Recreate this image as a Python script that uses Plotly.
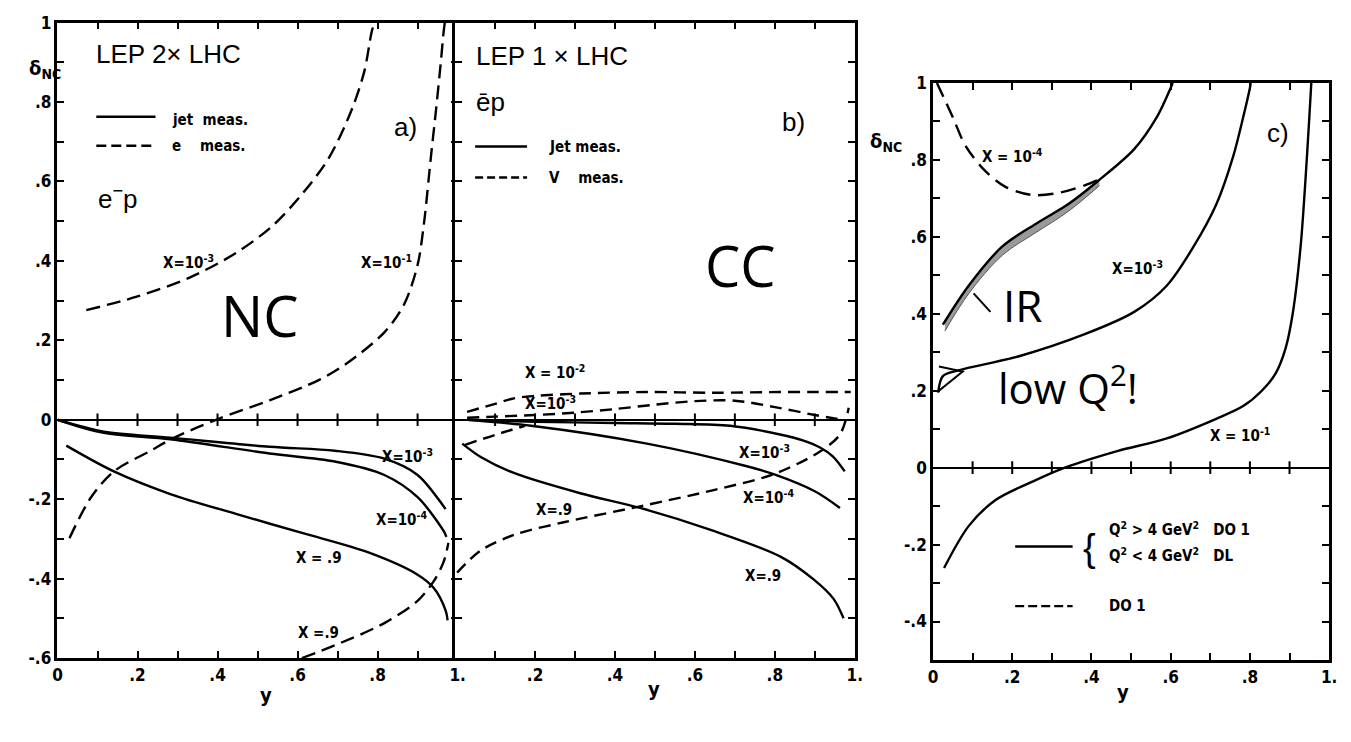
import plotly.graph_objects as go

# ---------------- data ----------------
# Panel a) LEP 2 x LHC, e-p, neutral current
a_e_x3_x = [.072, .198, .33, .446, .537, .611, .678, .735, .767, .785, .792]
a_e_x3_y = [.276, .31, .358, .42, .488, .568, .659, .78, .878, .976, 1.0]
a_e_x1_x = [.03, .084, .141, .233, .282, .396, .53, .653, .72, .817, .866, .9, .916, .933, .946, .958, .965, .968]
a_e_x1_y = [-.298, -.195, -.13, -.078, -.05, 0, .049, .1, .14, .22, .29, .39, .495, .659, .78, .9, .976, 1.0]
a_e_x9_x = [.611, .693, .817, .9, .94, .965, .977]
a_e_x9_y = [-.6, -.568, -.512, -.456, -.407, -.358, -.31]
a_j_x3_x = [0, .116, .282, .53, .693, .817, .9, .963, .97]
a_j_x3_y = [0, -.03, -.045, -.068, -.078, -.098, -.139, -.215, -.225]
a_j_x4_x = [0, .116, .282, .53, .693, .817, .9, .965, .972]
a_j_x4_y = [0, -.033, -.049, -.085, -.105, -.139, -.195, -.28, -.295]
a_j_x9_x = [.022, .141, .282, .446, .611, .777, .9, .94, .97, .975]
a_j_x9_y = [-.065, -.13, -.187, -.237, -.285, -.334, -.39, -.423, -.48, -.505]

# Panel b) LEP 1 x LHC, polarised e-p, charged current
b_n_x2_x = [.03, .1, .147, .2, .313, .48, .647, .813, .9, .99]
b_n_x2_y = [.02, .04, .054, .06, .066, .07, .068, .07, .07, .07]
b_n_x3_x = [.03, .1, .2, .3, .4, .5, .6, .7, .8, .9, .97]
b_n_x3_y = [.005, .008, .012, .018, .027, .038, .047, .048, .032, .012, 0]
b_n_x4_x = [.025, .1, .175]
b_n_x4_y = [-.063, -.038, -.015]
b_n_x9_x = [.005, .063, .147, .272, .463, .647, .797, .913, .963, .985]
b_n_x9_y = [-.385, -.33, -.29, -.258, -.218, -.177, -.137, -.08, -.037, .03]
b_j_x3_x = [.03, .2, .4, .55, .688, .813, .87, .913, .945, .975]
b_j_x3_y = [0, -.005, -.008, -.01, -.015, -.037, -.052, -.07, -.092, -.13]
b_j_x4_x = [.03, .19, .48, .73, .797, .9, .963]
b_j_x4_y = [0, -.015, -.06, -.117, -.137, -.18, -.222]
b_j_x9_x = [.018, .063, .147, .313, .463, .647, .813, .897, .947, .972]
b_j_x9_y = [-.06, -.093, -.134, -.185, -.222, -.28, -.344, -.402, -.451, -.5]

# Panel c) structure-function dependence
c_d_x4_x = [.01, .05, .083, .133, .183, .25, .315, .383, .415]
c_d_x4_y = [1.0, .911, .835, .77, .73, .709, .714, .734, .747]
c_s_x4_x = [.025, .09, .175, .258, .34, .415, .508, .565, .6, .605]
c_s_x4_y = [.372, .473, .575, .633, .684, .744, .828, .911, .987, 1.0]
c_s_x3_x = [.013, .025, .065, .215, .383, .508, .59, .658, .715, .758, .783, .8, .802]
c_s_x3_y = [.195, .238, .253, .289, .347, .405, .473, .575, .684, .81, .911, .987, 1.0]
c_s_x1_x = [.028, .09, .158, .258, .333, .465, .59, .715, .783, .83, .865, .89, .908, .928, .94, .95, .955]
c_s_x1_y = [-.261, -.152, -.084, -.033, 0, .043, .076, .127, .16, .2, .245, .31, .4, .575, .744, .911, 1.0]
c_band_x = [.03, .09, .175, .258, .34, .42]
c_band_top = [.375, .473, .575, .633, .684, .75]
c_band_bot = [.355, .452, .552, .61, .665, .733]

x_ticks = [round(i * 0.1, 1) for i in range(11)]
x_text_a = ["0", "", ".2", "", ".4", "", ".6", "", ".8", "", "1."]
x_text_b = ["", "", ".2", "", ".4", "", ".6", "", ".8", "", "1."]
y_ticks_ab = [round(-0.6 + i * 0.1, 1) for i in range(17)]
y_text_ab = ["-.6", "", "-.4", "", "-.2", "", "0", "", ".2", "", ".4", "", ".6", "", ".8", "", "1"]
y_ticks_c = [round(-0.5 + i * 0.1, 1) for i in range(16)]
y_text_c = ["", "-.4", "", "-.2", "", "0", "", ".2", "", ".4", "", ".6", "", ".8", "", "1"]
zero_ticks = [round(i * 0.1, 1) for i in range(1, 10)]

# ---------------- styling ----------------
INK = "black"
LW = 2.4
AXW = 2.5
TICKFONT = dict(family="Liberation Sans Narrow, DejaVu Sans Condensed, Arial Narrow, sans-serif",
                size=17, color=INK, weight="bold")
LABFONT = dict(family="Liberation Sans Narrow, DejaVu Sans Condensed, Arial Narrow, sans-serif",
               size=15, color=INK, weight="bold")
TXTFONT = dict(family="Liberation Sans, Arial, sans-serif", size=26, color=INK)
HANDFONT = dict(family="Open Sans, Lato, sans-serif", size=56, color=INK)

fig = go.Figure()


def curve(x, y, xa, ya, dash="solid"):
    fig.add_trace(go.Scatter(x=x, y=y, xaxis=xa, yaxis=ya, mode="lines",
                             line=dict(color=INK, width=LW, dash=dash, shape="spline", smoothing=0.9),
                             hoverinfo="skip"))


DASH = "14px,7px"

# panel a
curve(a_e_x3_x, a_e_x3_y, "x", "y", DASH)
curve(a_e_x1_x, a_e_x1_y, "x", "y", DASH)
curve(a_e_x9_x, a_e_x9_y, "x", "y", DASH)
curve(a_j_x3_x, a_j_x3_y, "x", "y")
curve(a_j_x4_x, a_j_x4_y, "x", "y")
curve(a_j_x9_x, a_j_x9_y, "x", "y")

# panel b
curve(b_n_x2_x, b_n_x2_y, "x2", "y2", "12px,7px")
curve(b_n_x3_x, b_n_x3_y, "x2", "y2", "12px,7px")
curve(b_n_x4_x, b_n_x4_y, "x2", "y2", "12px,7px")
curve(b_n_x9_x, b_n_x9_y, "x2", "y2", "12px,7px")
curve(b_j_x3_x, b_j_x3_y, "x2", "y2")
curve(b_j_x4_x, b_j_x4_y, "x2", "y2")
curve(b_j_x9_x, b_j_x9_y, "x2", "y2")

# panel c: shaded band along the x=1e-4 curve
fig.add_trace(go.Scatter(x=c_band_x, y=c_band_bot, xaxis="x3", yaxis="y3", mode="lines",
                         line=dict(color="#555", width=1, shape="spline"), hoverinfo="skip"))
fig.add_trace(go.Scatter(x=c_band_x, y=c_band_top, xaxis="x3", yaxis="y3", mode="lines",
                         line=dict(color="#555", width=1, shape="spline"), fill="tonexty",
                         fillcolor="#9a9a9a", hoverinfo="skip"))
curve(c_d_x4_x, c_d_x4_y, "x3", "y3", "15px,8px")
curve(c_s_x4_x, c_s_x4_y, "x3", "y3")
curve(c_s_x3_x, c_s_x3_y, "x3", "y3")
curve(c_s_x1_x, c_s_x1_y, "x3", "y3")

# small tick marks along the zero lines
for xa, ya in (("x", "y"), ("x2", "y2"), ("x3", "y3")):
    fig.add_trace(go.Scatter(x=zero_ticks, y=[0] * len(zero_ticks), xaxis=xa, yaxis=ya, mode="markers",
                             marker=dict(symbol="line-ns", size=9, line=dict(color=INK, width=2)),
                             hoverinfo="skip"))


def xaxis(domain, text, anchor):
    return dict(domain=domain, range=[0, 1], anchor=anchor, tickmode="array", tickvals=x_ticks,
                ticktext=text, ticks="inside", ticklen=7, tickwidth=2, tickcolor=INK,
                showline=True, linewidth=AXW, linecolor=INK, mirror="ticks", showgrid=False,
                zeroline=False, tickfont=TICKFONT)


def yaxis(domain, rng, vals, text, anchor, show=True):
    return dict(domain=domain, range=rng, anchor=anchor, tickmode="array", tickvals=vals,
                ticktext=text, ticks="inside", ticklen=7, tickwidth=2, tickcolor=INK,
                showline=True, linewidth=AXW, linecolor=INK, mirror="ticks", showgrid=False,
                zeroline=True, zerolinecolor=INK, zerolinewidth=2.2, showticklabels=show,
                tickfont=TICKFONT)


W, H = 1351, 742
dom_ab = [(H - 666) / H, (H - 13) / H]
dom_c = [(H - 668) / H, (H - 75) / H]
# panel b starts one frame-line width left so the shared border is drawn once
b_left = 457 - AXW

fig.update_layout(
    width=W, height=H, margin=dict(l=0, r=0, t=0, b=0),
    paper_bgcolor="white", plot_bgcolor="white", showlegend=False,
    xaxis=xaxis([53 / W, 457 / W], x_text_a, "y"),
    xaxis2=xaxis([b_left / W, 858 / W], x_text_b, "y2"),
    xaxis3=xaxis([937 / W, 1337 / W], x_text_a, "y3"),
    yaxis=yaxis(dom_ab, [-0.6, 1], y_ticks_ab, y_text_ab, "x"),
    yaxis2=yaxis(dom_ab, [-0.6, 1], y_ticks_ab, y_text_ab, "x2", show=False),
    yaxis3=yaxis(dom_c, [-0.5, 1], y_ticks_c, y_text_c, "x3"),
)

ann = []


def text(xa, ya, x, y, s, font, xanchor="center"):
    ann.append(dict(xref=xa, yref=ya, x=x, y=y, text=s, showarrow=False, font=font,
                    xanchor=xanchor, yanchor="middle"))


# panel a texts
text("x", "y", .092, .92, "LEP 2× LHC", TXTFONT, "left")
text("x", "y", .097, .56, "e<sup>−</sup>p", TXTFONT, "left")
text("x", "y", .87, .737, "a)", TXTFONT)
text("x", "y", .505, .263, "NC", HANDFONT)
text("x", "y", .282, .756, "jet  meas.", LABFONT, "left")
text("x", "y", .282, .69, "e    meas.", LABFONT, "left")
text("x", "y", .327, .398, "X=10<sup>-3</sup>", LABFONT)
text("x", "y", .822, .398, "X=10<sup>-1</sup>", LABFONT)
text("x", "y", .876, -.09, "X=10<sup>-3</sup>", LABFONT)
text("x", "y", .859, -.251, "X=10<sup>-4</sup>", LABFONT)
text("x", "y", .653, -.349, "X = .9", LABFONT)
text("x", "y", .653, -.537, "X =.9", LABFONT)

# panel b texts
text("x2", "y2", .048, .917, "LEP 1 × LHC", TXTFONT, "left")
text("x2", "y2", .048, .80, "ēp", TXTFONT, "left")
text("x2", "y2", .847, .749, "b)", TXTFONT)
text("x2", "y2", .713, .39, "CC", HANDFONT)
text("x2", "y2", .23, .688, "Jet meas.", LABFONT, "left")
text("x2", "y2", .23, .61, "V    meas.", LABFONT, "left")
text("x2", "y2", .25, .12, "X = 10<sup>-2</sup>", LABFONT)
text("x2", "y2", .238, .041, "X=10<sup>-3</sup>", LABFONT)
text("x2", "y2", .773, -.08, "X=10<sup>-3</sup>", LABFONT)
text("x2", "y2", .785, -.195, "X=10<sup>-4</sup>", LABFONT)
text("x2", "y2", .248, -.227, "X=.9", LABFONT)
text("x2", "y2", .77, -.393, "X=.9", LABFONT)

# panel c texts
text("x3", "y3", .87, .87, "c)", TXTFONT)
text("x3", "y3", .2, .81, "X = 10<sup>-4</sup>", LABFONT)
text("x3", "y3", .515, .519, "X=10<sup>-3</sup>", LABFONT)
text("x3", "y3", .775, .086, "X = 10<sup>-1</sup>", LABFONT)
text("x3", "y3", .225, .423, "IR", dict(HANDFONT, size=44))
text("x3", "y3", .34, .213, "low Q<sup>2</sup>!", dict(HANDFONT, size=42))
text("x3", "y3", .395, -.21, "{", dict(family="Liberation Sans, sans-serif", size=38, color=INK))
text("x3", "y3", .44, -.16, "Q<sup>2</sup> > 4 GeV<sup>2</sup>   DO 1", LABFONT, "left")
text("x3", "y3", .44, -.228, "Q<sup>2</sup> < 4 GeV<sup>2</sup>   DL", LABFONT, "left")
text("x3", "y3", .44, -.36, "DO 1", LABFONT, "left")

# axis titles
TFONT = dict(family="Liberation Sans Narrow, DejaVu Sans Condensed, sans-serif", size=20, color=INK, weight="bold")
ann.append(dict(xref="paper", yref="paper", x=22 / W, y=1 - 45 / H, text="δ<sub>NC</sub>",
                showarrow=False, font=TFONT))
ann.append(dict(xref="paper", yref="paper", x=908 / W, y=1 - 120 / H, text="δ<sub>NC</sub>",
                showarrow=False, font=TFONT))
for px, py in ((255, 718), (655, 712), (1137, 715)):
    ann.append(dict(xref="paper", yref="paper", x=px / W, y=1 - py / H, text="y",
                    showarrow=False, font=TFONT))
fig.update_layout(annotations=ann)

# legend keys and hand-drawn strokes
shapes = [
    dict(type="line", xref="x", yref="y", x0=.097, x1=.245, y0=.763, y1=.763, line=dict(color=INK, width=LW)),
    dict(type="line", xref="x", yref="y", x0=.097, x1=.24, y0=.69, y1=.69, line=dict(color=INK, width=LW, dash="10px,5px")),
    dict(type="line", xref="x2", yref="y2", x0=.05, x1=.18, y0=.688, y1=.688, line=dict(color=INK, width=LW)),
    dict(type="line", xref="x2", yref="y2", x0=.05, x1=.18, y0=.61, y1=.61, line=dict(color=INK, width=LW, dash="8px,4px")),
    dict(type="line", xref="x3", yref="y3", x0=.2075, x1=.3525, y0=-.205, y1=-.205, line=dict(color=INK, width=LW)),
    dict(type="line", xref="x3", yref="y3", x0=.2075, x1=.3525, y0=-.36, y1=-.36, line=dict(color=INK, width=LW, dash="9px,4px")),
    dict(type="line", xref="x3", yref="y3", x0=.1025, x1=.145, y0=.453, y1=.405, line=dict(color=INK, width=2)),
    dict(type="path", xref="x3", yref="y3", path="M .015,.263 L .075,.25 L .015,.2",
         line=dict(color=INK, width=2)),
]
fig.update_layout(shapes=shapes)

fig.write_html("out.html")
